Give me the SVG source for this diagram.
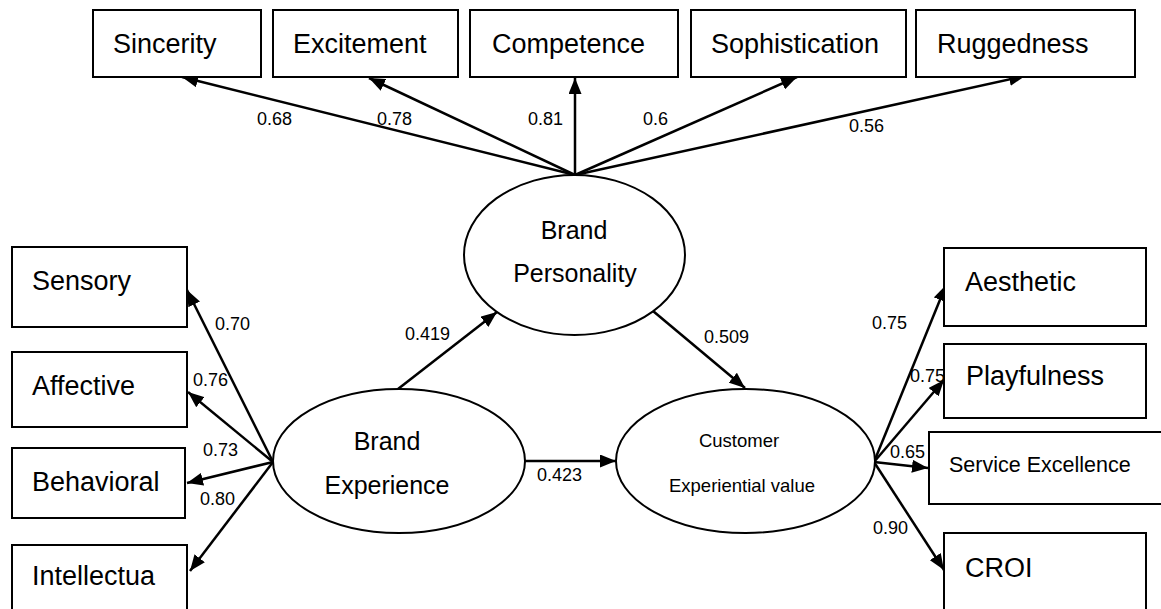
<svg xmlns="http://www.w3.org/2000/svg" width="1161" height="609" viewBox="0 0 1161 609">
<defs>
<marker id="ah" markerUnits="userSpaceOnUse" markerWidth="17" markerHeight="13" refX="16" refY="6.5" orient="auto">
<path d="M0,0 L16,6.5 L0,13 z" fill="#000"/>
</marker>
<style>
.box{fill:#fff;stroke:#000;stroke-width:2}
.ell{fill:#fff;stroke:#000;stroke-width:2}
.t{font-family:"Liberation Sans",Arial,sans-serif;font-size:27px;fill:#000}
.te{font-family:"Liberation Sans",Arial,sans-serif;font-size:25px;fill:#000;text-anchor:middle}
.ts{font-family:"Liberation Sans",Arial,sans-serif;font-size:18.5px;fill:#000;text-anchor:middle}
.lbl{font-family:"Liberation Sans",Arial,sans-serif;font-size:18px;fill:#000}
.c{stroke:#000;stroke-width:2.5;fill:none;marker-end:url(#ah)}
</style>
</defs>
<rect width="1161" height="609" fill="#fff"/>

<g id="connectors">
<line class="c" x1="575" y1="175" x2="182" y2="77"/>
<line class="c" x1="575" y1="175" x2="369" y2="78"/>
<line class="c" x1="575" y1="175" x2="575" y2="78"/>
<line class="c" x1="575" y1="175" x2="797" y2="77"/>
<line class="c" x1="575" y1="175" x2="1025" y2="76"/>
<line class="c" x1="398" y1="389" x2="497" y2="312"/>
<line class="c" x1="653" y1="311" x2="745" y2="388"/>
<line class="c" x1="525" y1="461" x2="616" y2="461"/>
<line class="c" x1="273" y1="462" x2="187" y2="290"/>
<line class="c" x1="273" y1="462" x2="188" y2="392"/>
<line class="c" x1="273" y1="462" x2="187" y2="483"/>
<line class="c" x1="273" y1="462" x2="190" y2="571"/>
<line class="c" x1="874" y1="462" x2="946" y2="285"/>
<line class="c" x1="874" y1="462" x2="944" y2="380"/>
<line class="c" x1="874" y1="462" x2="928" y2="468"/>
<line class="c" x1="874" y1="462" x2="944" y2="570"/>
<text class="lbl" x="257" y="125">0.68</text>
<text class="lbl" x="377" y="125">0.78</text>
<text class="lbl" x="528" y="125">0.81</text>
<text class="lbl" x="643" y="125">0.6</text>
<text class="lbl" x="849" y="132">0.56</text>
<text class="lbl" x="405" y="340">0.419</text>
<text class="lbl" x="704" y="343">0.509</text>
<text class="lbl" x="537" y="481">0.423</text>
<text class="lbl" x="215" y="330">0.70</text>
<text class="lbl" x="193" y="386">0.76</text>
<text class="lbl" x="203" y="456">0.73</text>
<text class="lbl" x="200" y="505">0.80</text>
<text class="lbl" x="872" y="329">0.75</text>
<text class="lbl" x="910" y="382">0.75</text>
<text class="lbl" x="890" y="458">0.65</text>
<text class="lbl" x="873" y="534">0.90</text>
</g>

<g id="sincerity"><rect class="box" x="93" y="10" width="168" height="67"/><text class="t" x="113" y="53">Sincerity</text></g>
<g id="excitement"><rect class="box" x="273" y="10" width="185" height="67"/><text class="t" x="293" y="53">Excitement</text></g>
<g id="competence"><rect class="box" x="470" y="10" width="208" height="67"/><text class="t" x="492" y="53">Competence</text></g>
<g id="sophistication"><rect class="box" x="691" y="10" width="215" height="67"/><text class="t" x="711" y="53">Sophistication</text></g>
<g id="ruggedness"><rect class="box" x="916" y="10" width="219" height="67"/><text class="t" x="937" y="53">Ruggedness</text></g>

<g id="sensory"><rect class="box" x="12" y="247" width="175" height="80"/><text class="t" x="32" y="290">Sensory</text></g>
<g id="affective"><rect class="box" x="12" y="352" width="175" height="75"/><text class="t" x="32" y="395">Affective</text></g>
<g id="behavioral"><rect class="box" x="12" y="448" width="173" height="70"/><text class="t" x="32" y="491">Behavioral</text></g>
<g id="intellectual"><rect class="box" x="12" y="545" width="175" height="80"/><text class="t" x="32" y="585">Intellectua</text></g>

<g id="aesthetic"><rect class="box" x="944" y="248" width="202" height="78"/><text class="t" x="965" y="291">Aesthetic</text></g>
<g id="playfulness"><rect class="box" x="944" y="344" width="202" height="74"/><text class="t" x="966" y="385">Playfulness</text></g>
<g id="service"><rect class="box" x="929" y="432" width="250" height="72"/><text class="t" x="949" y="472" style="font-size:21.5px">Service Excellence</text></g>
<g id="croi"><rect class="box" x="944" y="533" width="202" height="90"/><text class="t" x="965" y="577">CROI</text></g>

<g id="brand-personality"><ellipse class="ell" cx="574.5" cy="255" rx="110.5" ry="80"/><text class="te" x="574" y="239">Brand</text><text class="te" x="575" y="282">Personality</text></g>
<g id="brand-experience"><ellipse class="ell" cx="399" cy="461" rx="126" ry="72"/><text class="te" x="387" y="450">Brand</text><text class="te" x="387" y="494">Experience</text></g>
<g id="customer-experiential-value"><ellipse class="ell" cx="745.5" cy="461" rx="129.5" ry="72"/><text class="ts" x="739" y="447">Customer</text><text class="ts" x="742" y="492">Experiential value</text></g>
</svg>
